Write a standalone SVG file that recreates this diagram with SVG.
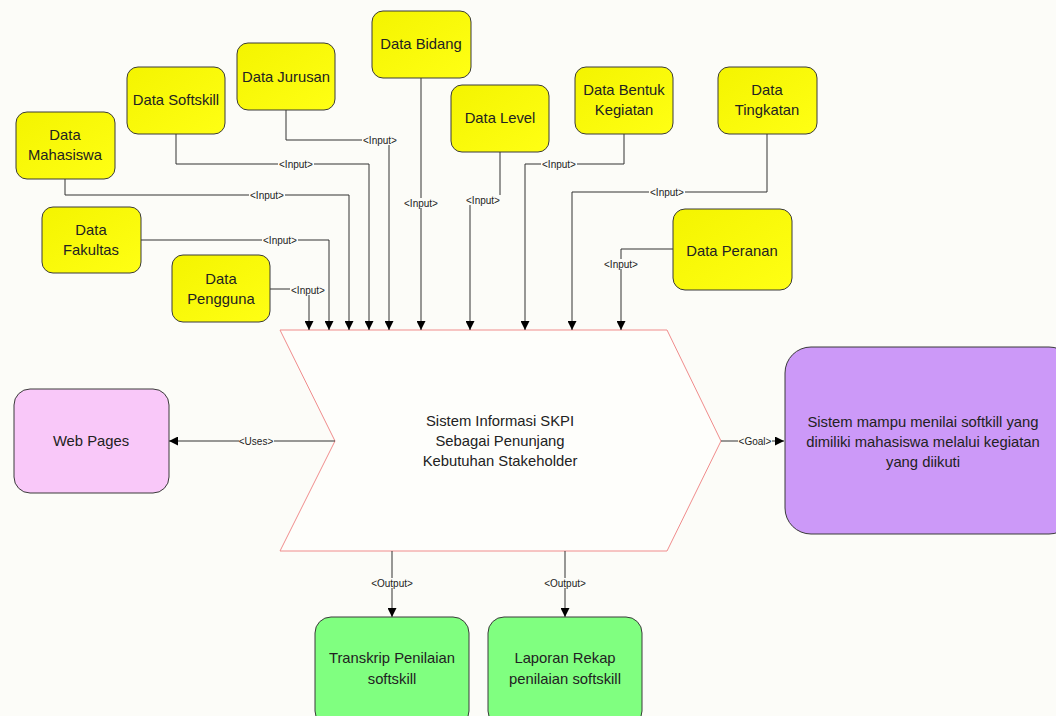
<svg xmlns="http://www.w3.org/2000/svg" width="1056" height="716" viewBox="0 0 1056 716">
  <defs>
    <marker id="arrow" viewBox="0 0 10 10" refX="10" refY="5" markerWidth="9" markerHeight="9" markerUnits="userSpaceOnUse" orient="auto">
      <path d="M0,0 L10,5 L0,10 z" fill="#000"/>
    </marker>
    <linearGradient id="gYellow" x1="0" y1="0" x2="1" y2="1">
      <stop offset="0" stop-color="#F4F400"/>
      <stop offset="1" stop-color="#FFFF14"/>
    </linearGradient>
    <style>
      .bg { fill: #FCFCF8; }
      .data rect { fill: url(#gYellow); stroke: #3A3A3A; stroke-width: 1; }
      .node text, .proc text { font-family: "Liberation Sans", Arial, sans-serif; font-size: 14.8px; fill: #222; text-anchor: middle; }
      .web rect { fill: #F9C8F9; stroke: #3A3A3A; stroke-width: 1; }
      .goal rect { fill: #CC99F8; stroke: #3A3A3A; stroke-width: 1; }
      .out rect { fill: #80FF80; stroke: #3A3A3A; stroke-width: 1; }
      .proc polygon { fill: #FEFEFB; stroke: #F08C8C; stroke-width: 1; }
      .conn path { fill: none; stroke: #333; stroke-width: 1; }
      .lbl { font-family: "Liberation Sans", Arial, sans-serif; font-size: 10px; fill: #222; text-anchor: middle; }
      .lblbg { fill: #FCFCF8; }
    </style>
  </defs>

  <rect class="bg" x="0" y="0" width="1056" height="716"/>

  <!-- central process chevron -->
  <g id="proses" class="proc">
    <polygon points="280,330 667,330 721,441 667,551 280,551 335,441"/>
    <text x="500" y="426">Sistem Informasi SKPI</text>
    <text x="500" y="446">Sebagai Penunjang</text>
    <text x="500" y="466">Kebutuhan Stakeholder</text>
  </g>

  <!-- connectors -->
  <g id="connectors" class="conn">
    <path d="M286,110 V140 H389 V330" marker-end="url(#arrow)"/>
    <path d="M176,134 V164 H369 V330" marker-end="url(#arrow)"/>
    <path d="M65,179 V195 H349 V330" marker-end="url(#arrow)"/>
    <path d="M141,240 H329 V330" marker-end="url(#arrow)"/>
    <path d="M270,289 H309 V330" marker-end="url(#arrow)"/>
    <path d="M421,78 V330" marker-end="url(#arrow)"/>
    <path d="M500,152 V200 H470 V330" marker-end="url(#arrow)"/>
    <path d="M624,134 V164 H525 V330" marker-end="url(#arrow)"/>
    <path d="M767,134 V192 H572 V330" marker-end="url(#arrow)"/>
    <path d="M673,249 H621 V330" marker-end="url(#arrow)"/>
    <path d="M335,441 H169" marker-end="url(#arrow)"/>
    <path d="M721,441 H784" marker-end="url(#arrow)"/>
    <path d="M392,551 V617" marker-end="url(#arrow)"/>
    <path d="M565,551 V617" marker-end="url(#arrow)"/>

    <!-- connector labels -->
    <rect class="lblbg" x="362" y="135" width="36" height="10"/>
    <text class="lbl" x="380" y="143.5">&lt;Input&gt;</text>
    <rect class="lblbg" x="278" y="159" width="36" height="10"/>
    <text class="lbl" x="296" y="167.5">&lt;Input&gt;</text>
    <rect class="lblbg" x="249" y="190" width="36" height="10"/>
    <text class="lbl" x="267" y="198.5">&lt;Input&gt;</text>
    <rect class="lblbg" x="262" y="235" width="36" height="10"/>
    <text class="lbl" x="280" y="243.5">&lt;Input&gt;</text>
    <rect class="lblbg" x="290" y="285" width="37" height="10"/>
    <text class="lbl" x="308" y="293.5">&lt;Input&gt;</text>
    <rect class="lblbg" x="403" y="198" width="36" height="10"/>
    <text class="lbl" x="421" y="206.5">&lt;Input&gt;</text>
    <rect class="lblbg" x="465" y="195" width="36" height="10"/>
    <text class="lbl" x="483" y="203.5">&lt;Input&gt;</text>
    <rect class="lblbg" x="541" y="159" width="36" height="10"/>
    <text class="lbl" x="559" y="167.5">&lt;Input&gt;</text>
    <rect class="lblbg" x="649" y="187" width="36" height="10"/>
    <text class="lbl" x="667" y="195.5">&lt;Input&gt;</text>
    <rect class="lblbg" x="603" y="259" width="36" height="10"/>
    <text class="lbl" x="621" y="267.5">&lt;Input&gt;</text>
    <rect class="lblbg" x="239" y="436" width="35" height="10"/>
    <text class="lbl" x="256" y="444.5">&lt;Uses&gt;</text>
    <rect class="lblbg" x="738" y="436" width="34" height="10"/>
    <text class="lbl" x="755" y="444.5">&lt;Goal&gt;</text>
    <rect class="lblbg" x="369" y="578" width="46" height="10"/>
    <text class="lbl" x="392" y="586.5">&lt;Output&gt;</text>
    <rect class="lblbg" x="542" y="578" width="46" height="10"/>
    <text class="lbl" x="565" y="586.5">&lt;Output&gt;</text>
  </g>

  <!-- data input nodes -->
  <g id="data-mahasiswa" class="node data">
    <rect x="16" y="112" width="99" height="67" rx="11"/>
    <text x="65" y="140">Data</text>
    <text x="65" y="160">Mahasiswa</text>
  </g>
  <g id="data-softskill" class="node data">
    <rect x="127" y="67" width="98" height="67" rx="11"/>
    <text x="176" y="105">Data Softskill</text>
  </g>
  <g id="data-jurusan" class="node data">
    <rect x="237" y="43" width="98" height="67" rx="11"/>
    <text x="286" y="82">Data Jurusan</text>
  </g>
  <g id="data-bidang" class="node data">
    <rect x="372" y="11" width="99" height="67" rx="11"/>
    <text x="421" y="49">Data Bidang</text>
  </g>
  <g id="data-level" class="node data">
    <rect x="451" y="85" width="98" height="67" rx="11"/>
    <text x="500" y="123">Data Level</text>
  </g>
  <g id="data-bentuk-kegiatan" class="node data">
    <rect x="575" y="67" width="98" height="67" rx="11"/>
    <text x="624" y="95">Data Bentuk</text>
    <text x="624" y="115">Kegiatan</text>
  </g>
  <g id="data-tingkatan" class="node data">
    <rect x="718" y="67" width="99" height="67" rx="11"/>
    <text x="767" y="95">Data</text>
    <text x="767" y="115">Tingkatan</text>
  </g>
  <g id="data-peranan" class="node data">
    <rect x="673" y="209" width="119" height="81" rx="12"/>
    <text x="732" y="256">Data Peranan</text>
  </g>
  <g id="data-fakultas" class="node data">
    <rect x="42" y="207" width="99" height="66" rx="11"/>
    <text x="91" y="235">Data</text>
    <text x="91" y="255">Fakultas</text>
  </g>
  <g id="data-pengguna" class="node data">
    <rect x="172" y="255" width="98" height="67" rx="11"/>
    <text x="221" y="284">Data</text>
    <text x="221" y="304">Pengguna</text>
  </g>

  <!-- uses -->
  <g id="web-pages" class="node web">
    <rect x="14" y="389" width="155" height="104" rx="16"/>
    <text x="91" y="446">Web Pages</text>
  </g>

  <!-- goal -->
  <g id="goal" class="node goal">
    <rect x="785" y="347" width="290" height="187" rx="26"/>
    <text x="923" y="427">Sistem mampu menilai softkill yang</text>
    <text x="923" y="447">dimiliki mahasiswa melalui kegiatan</text>
    <text x="923" y="467">yang diikuti</text>
  </g>

  <!-- outputs -->
  <g id="transkrip" class="node out">
    <rect x="315" y="617" width="154" height="110" rx="16"/>
    <text x="392" y="663">Transkrip Penilaian</text>
    <text x="392" y="684">softskill</text>
  </g>
  <g id="laporan" class="node out">
    <rect x="488" y="617" width="154" height="110" rx="16"/>
    <text x="565" y="663">Laporan Rekap</text>
    <text x="565" y="684">penilaian softskill</text>
  </g>
</svg>
